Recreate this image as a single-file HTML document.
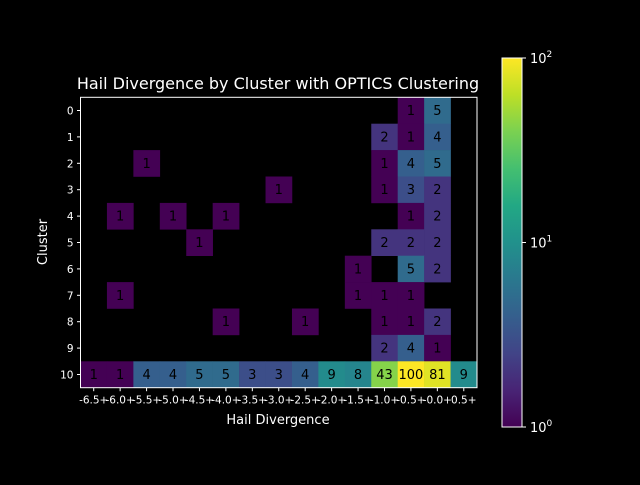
<!DOCTYPE html>
<html><head><meta charset="utf-8"><style>
html,body{margin:0;padding:0;background:#000;}
svg text{font-family:"DejaVu Sans","Liberation Sans",sans-serif;}
</style></head><body>
<svg id="chart" width="640" height="480" viewBox="0 0 640 480" xmlns="http://www.w3.org/2000/svg">
<rect width="640" height="480" fill="#000"/>
<text x="278" y="89" fill="#fff" font-size="16" text-anchor="middle">Hail Divergence by Cluster with OPTICS Clustering</text>
<g id="cells"></g>
<rect x="80.5" y="97.3" width="396.5" height="290.4" fill="none" stroke="#fff" stroke-width="1"/>
<g id="xticks"></g>
<g id="yticks"></g>
<text x="278" y="424" fill="#fff" font-size="13" text-anchor="middle">Hail Divergence</text>
<text x="47" y="242" fill="#fff" font-size="13" text-anchor="middle" transform="rotate(-90 47 242)">Cluster</text>
<defs><linearGradient id="cbg" x1="0" y1="1" x2="0" y2="0">
<stop offset="0" stop-color="#440154"/><stop offset="0.1" stop-color="#482475"/><stop offset="0.2" stop-color="#414487"/><stop offset="0.3" stop-color="#355f8d"/><stop offset="0.4" stop-color="#2a788e"/><stop offset="0.5" stop-color="#21918c"/><stop offset="0.6" stop-color="#22a884"/><stop offset="0.7" stop-color="#44bf70"/><stop offset="0.8" stop-color="#7ad151"/><stop offset="0.9" stop-color="#bddf26"/><stop offset="1" stop-color="#fde725"/>
</linearGradient></defs>
<rect x="502" y="58" width="20" height="369" fill="url(#cbg)" stroke="#fff" stroke-width="1"/>
<g id="cbticks"></g>
</svg>
<script>
const xLabels = ["-6.5+","-6.0+","-5.5+","-5.0+","-4.5+","-4.0+","-3.5+","-3.0+","-2.5+","-2.0+","-1.5+","-1.0+","-0.5+","-0.0+","0.5+"];
const yLabels = ["0","1","2","3","4","5","6","7","8","9","10"];
const row0 = [0,0,0,0,0,0,0,0,0,0,0,0,1,5,0];
const row1 = [0,0,0,0,0,0,0,0,0,0,0,2,1,4,0];
const row2 = [0,0,1,0,0,0,0,0,0,0,0,1,4,5,0];
const row3 = [0,0,0,0,0,0,0,1,0,0,0,1,3,2,0];
const row4 = [0,1,0,1,0,1,0,0,0,0,0,0,1,2,0];
const row5 = [0,0,0,0,1,0,0,0,0,0,0,2,2,2,0];
const row6 = [0,0,0,0,0,0,0,0,0,0,1,0,5,2,0];
const row7 = [0,1,0,0,0,0,0,0,0,0,1,1,1,0,0];
const row8 = [0,0,0,0,0,1,0,0,1,0,0,1,1,2,0];
const row9 = [0,0,0,0,0,0,0,0,0,0,0,2,4,1,0];
const row10 = [1,1,4,4,5,5,3,3,4,9,8,43,100,81,9];
const matrix = [row0,row1,row2,row3,row4,row5,row6,row7,row8,row9,row10];
const cbTicks = [1,10,100];

const NS="http://www.w3.org/2000/svg";
const X0=80.5,X1=477,Y0=97.3,Y1=387.7;
const cw=(X1-X0)/xLabels.length, ch=(Y1-Y0)/yLabels.length;
const xPos=i=>X0+i*cw, yPos=j=>Y0+j*ch;
const cbY=v=>427-(Math.log10(v)/2)*369;
const vir=["#440154","#482475","#414487","#355f8d","#2a788e","#21918c","#22a884","#44bf70","#7ad151","#bddf26","#fde725"];
function hex(h){return [1,3,5].map(k=>parseInt(h.substr(k,2),16));}
function color(v){let t=Math.max(0,Math.min(1,Math.log10(v)/2))*10;let i=Math.min(9,Math.floor(t)),f=t-i;
const a=hex(vir[i]),b=hex(vir[i+1]);return "rgb("+a.map((c,k)=>Math.round(c+(b[k]-c)*f)).join(",")+")";}
function mk(tag,attrs,parent){const e=document.createElementNS(NS,tag);for(const k in attrs)e.setAttribute(k,attrs[k]);parent.appendChild(e);return e;}
const cells=document.getElementById('cells');
matrix.forEach((row,j)=>row.forEach((v,i)=>{
 if(!v)return;
 const r=mk('rect',{x:xPos(i),y:yPos(j),width:cw+0.3,height:ch+0.3,fill:color(v)},cells);
 
 
 const t=mk('text',{x:xPos(i)+cw/2,y:yPos(j)+ch/2+4.5,'font-size':13,'text-anchor':'middle',fill:'#000'},cells);
 t.textContent=v;
 
 
}));
const xg=document.getElementById('xticks');
xLabels.forEach((l,i)=>{const x=xPos(i)+cw/2;
 const tk=mk('line',{x1:x,x2:x,y1:Y1,y2:Y1+3.5,stroke:'#fff'},xg);
 
 
 const t=mk('text',{x:x,y:Y1+16,'font-size':10.5,'text-anchor':'middle',fill:'#fff'},xg);t.textContent=l;
 
 });
const yg=document.getElementById('yticks');
yLabels.forEach((l,j)=>{const y=yPos(j)+ch/2;
 const tk=mk('line',{x1:X0-3.5,x2:X0,y1:y,y2:y,stroke:'#fff'},yg);
 
 
 const t=mk('text',{x:X0-7,y:y+4,'font-size':10.5,'text-anchor':'end',fill:'#fff'},yg);t.textContent=l;
 
 });
const cg=document.getElementById('cbticks');
cbTicks.forEach(v=>{const y=cbY(v);
 const tk=mk('line',{x1:522,x2:526,y1:y,y2:y,stroke:'#fff'},cg);
 
 
 const t=mk('text',{x:530,y:y+5,'font-size':13,fill:'#fff'},cg);
 
 
 const a=mk('tspan',{},t);a.textContent='10';
 const b=mk('tspan',{dy:-6,'font-size':9},t);b.textContent=String(Math.round(Math.log10(v)));});
</script>
</body></html>
